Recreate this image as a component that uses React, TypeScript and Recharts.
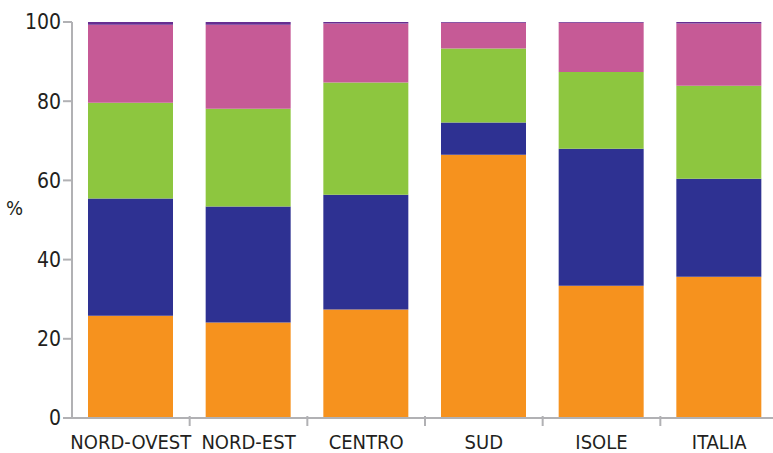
import { BarChart, Bar, XAxis, YAxis } from 'recharts';

const categories = ['NORD-OVEST', 'NORD-EST', 'CENTRO', 'SUD', 'ISOLE', 'ITALIA'];

const serie1 = [25.8, 24.1, 27.4, 66.5, 33.4, 35.7];
const serie2 = [29.6, 29.3, 29.0, 8.1, 34.6, 24.7];
const serie3 = [24.2, 24.7, 28.3, 18.7, 19.4, 23.5];
const serie4 = [19.7, 21.2, 14.9, 6.5, 12.4, 15.7];
const serie5 = [0.7, 0.7, 0.4, 0.2, 0.2, 0.4];

const yTicks = [0, 20, 40, 60, 80, 100];

const KEYS = ['s1', 's2', 's3', 's4', 's5'];
const COLORS = ['#F6921E', '#2E3192', '#8DC63F', '#C65A96', '#662D91'];

const data = categories.map((name, i) => ({
    name,
    s1: serie1[i],
    s2: serie2[i],
    s3: serie3[i],
    s4: serie4[i],
    s5: serie5[i],
}));

const AXIS = '#B1B1B4';
const FONT = '"DejaVu Sans Condensed", "DejaVu Sans", sans-serif';

function XTick(props: any) {
    const { x, y, payload, index } = props;
    const half = payload.offset || 58.8;
    return (
        <g>
            {index < categories.length - 1 && (
                <line x1={x + half} x2={x + half} y1={y} y2={y - 10} stroke={AXIS} strokeWidth={2} />
            )}
            <text x={x} y={y + 23} textAnchor="middle" fill="#231F20" fontSize={20} fontFamily={FONT}>
                {payload.value}
            </text>
        </g>
    );
}

export default function App() {
    return (
        <div style={{ position: 'absolute', left: 0, top: 0, width: 773, height: 453, overflow: 'hidden', background: '#fff' }}>
            <BarChart
                width={790}
                height={453}
                data={data}
                margin={{ top: 22, right: 12, bottom: 0, left: 0 }}
            >
                <XAxis
                    dataKey="name"
                    height={35}
                    tickLine={false}
                    axisLine={{ stroke: AXIS, strokeWidth: 2 }}
                    tick={<XTick />}
                    interval={0}
                />
                <YAxis
                    width={72}
                    domain={[0, 100]}
                    ticks={yTicks}
                    tickSize={9}
                    tickMargin={2}
                    axisLine={{ stroke: AXIS, strokeWidth: 2 }}
                    tickLine={{ stroke: AXIS, strokeWidth: 2 }}
                    tick={{ fill: '#231F20', fontSize: 21, fontFamily: FONT }}
                    label={{ value: '%', position: 'insideLeft', offset: 6, dy: -12, fill: '#231F20', fontSize: 20, fontFamily: FONT }}
                />
                {KEYS.map((k, i) => (
                    <Bar key={k} dataKey={k} stackId="a" fill={COLORS[i]} barSize={85} isAnimationActive={false} />
                ))}
            </BarChart>
        </div>
    );
}
